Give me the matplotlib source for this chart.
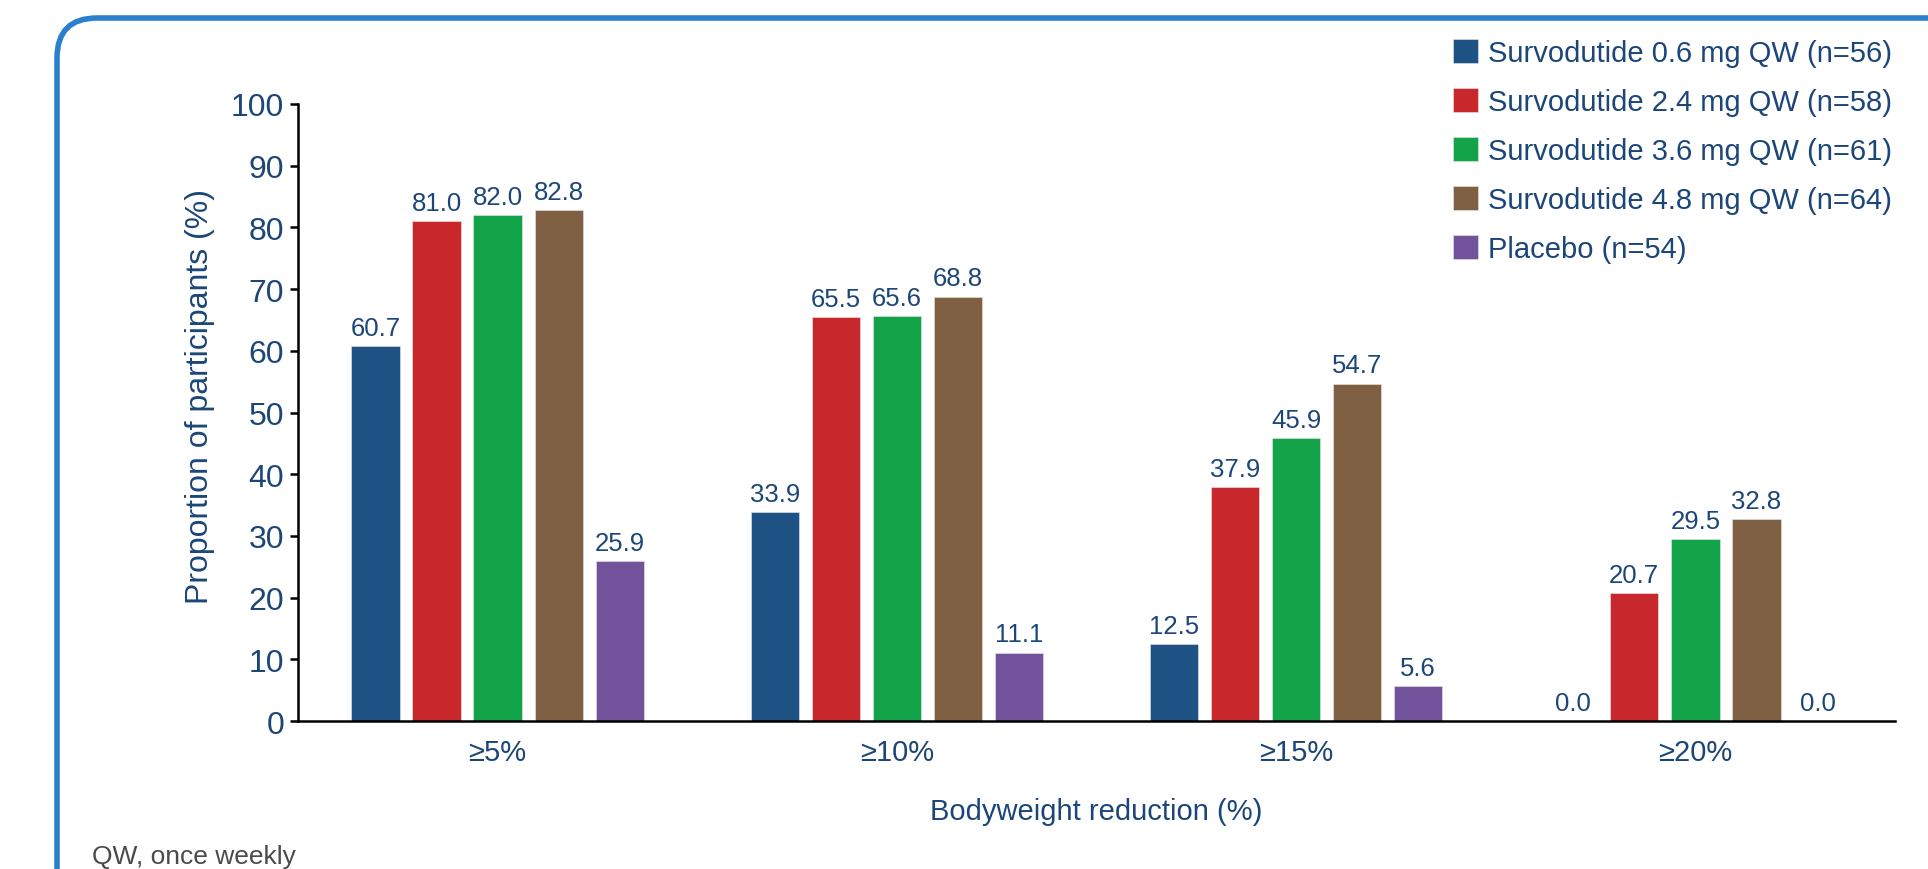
import matplotlib
matplotlib.use("Agg")
import matplotlib.pyplot as plt
from matplotlib import font_manager
from matplotlib.patches import FancyBboxPatch
import numpy as np

# ----------------------------------------------------------------
# Data
# ----------------------------------------------------------------
categories = ["\u22655%", "\u226510%", "\u226515%", "\u226520%"]
series_labels = [
    "Survodutide 0.6 mg QW (n=56)",
    "Survodutide 2.4 mg QW (n=58)",
    "Survodutide 3.6 mg QW (n=61)",
    "Survodutide 4.8 mg QW (n=64)",
    "Placebo (n=54)",
]
dose_06 = [60.7, 33.9, 12.5, 0.0]
dose_24 = [81.0, 65.5, 37.9, 20.7]
dose_36 = [82.0, 65.6, 45.9, 29.5]
dose_48 = [82.8, 68.8, 54.7, 32.8]
placebo = [25.9, 11.1, 5.6, 0.0]
series_values = [dose_06, dose_24, dose_36, dose_48, placebo]
yticks = [0, 10, 20, 30, 40, 50, 60, 70, 80, 90, 100]

# ----------------------------------------------------------------
# Style
# ----------------------------------------------------------------
BAR_COLORS = ["#1F5284", "#C8282C", "#13A44A", "#7F6043", "#72529B"]
NAVY = "#1C4678"
FOOT = "#4A4A4A"
BORDER = "#2B80CE"

installed = {f.name for f in font_manager.fontManager.ttflist}
narrow = "Liberation Sans Narrow" if "Liberation Sans Narrow" in installed else "Liberation Sans"
plt.rcParams["font.family"] = [narrow, "DejaVu Sans"]

W, H, DPI = 1928, 870, 100
fig = plt.figure(figsize=(W / DPI, H / DPI), dpi=DPI, facecolor="white")
ax = fig.add_axes([298 / W, 1 - 722 / H, (1895 - 298) / W, (722 - 105) / H])

# rounded blue frame (display pixels)
frame = FancyBboxPatch(
    (57, -60), W + 60, H - 19 + 60,
    boxstyle="round,pad=0,rounding_size=40",
    transform=None, fill=False, edgecolor=BORDER, linewidth=4.0,
    clip_on=False,
)
fig.patches.append(frame)

# ----------------------------------------------------------------
# Bars
# ----------------------------------------------------------------
x = np.arange(len(categories))
step, width = 0.153, 0.121
for i, (vals, col, lab) in enumerate(zip(series_values, BAR_COLORS, series_labels)):
    pos = x + (i - 2) * step
    ax.bar(pos, vals, width=width, color=col, label=lab,
           edgecolor="#e8e8e8", linewidth=0.4, zorder=2)
    for px, v in zip(pos, vals):
        ax.annotate(f"{v:.1f}", (px, v), xytext=(0, 8), textcoords="offset points",
                    ha="center", va="baseline", fontsize=18.5, color=NAVY,
                    family="Liberation Sans")

ax.set_xlim(-0.5, 3.5)
ax.set_ylim(0, 100)
ax.set_yticks(yticks)
ax.set_yticklabels([str(t) for t in yticks], family="Liberation Sans")
ax.set_xticks(x)
ax.set_xticklabels(categories)

for side in ("top", "right"):
    ax.spines[side].set_visible(False)
for side in ("left", "bottom"):
    ax.spines[side].set_linewidth(1.8)
    ax.spines[side].set_color("black")

ax.tick_params(axis="y", length=6, width=1.8, pad=4, labelsize=23, labelcolor=NAVY)
ax.tick_params(axis="x", length=0, pad=12, labelsize=21, labelcolor=NAVY)

ax.set_ylabel("Proportion of participants (%)", fontsize=23, color=NAVY)
ax.yaxis.set_label_coords(-0.052, 0.528)
ax.set_xlabel("Bodyweight reduction (%)", fontsize=21, color=NAVY, va="center")
ax.xaxis.set_label_coords(0.5, -0.146)

# ----------------------------------------------------------------
# Legend
# ----------------------------------------------------------------
leg = ax.legend(
    loc="upper left", bbox_to_anchor=(1453 / W, 1 - 40 / H),
    bbox_transform=fig.transFigure, frameon=False,
    fontsize=21, handlelength=0.85, handleheight=0.85, handletextpad=0.35,
    labelspacing=0.72, borderaxespad=0, borderpad=0,
)
for t in leg.get_texts():
    t.set_color(NAVY)

fig.text(92 / W, 1 - 845 / H, "QW, once weekly", ha="left", va="top",
         fontsize=19, color=FOOT)

fig.savefig("out.png", dpi=DPI, facecolor="white")
